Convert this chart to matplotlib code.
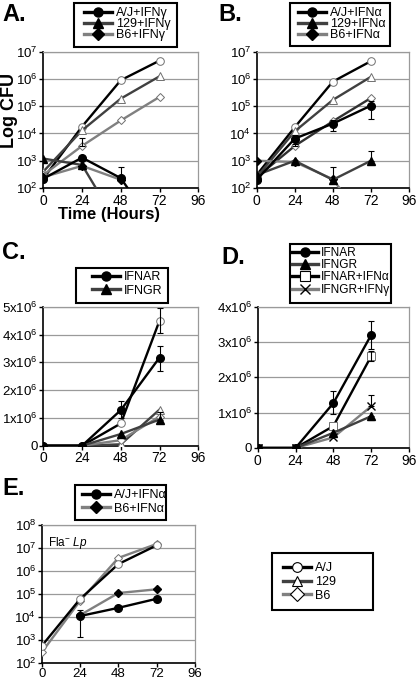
import numpy as np
import matplotlib
matplotlib.use("Agg")
import matplotlib.pyplot as plt
from matplotlib.lines import Line2D
from matplotlib.patches import Rectangle
from matplotlib.ticker import NullLocator

plt.rcParams['font.family'] = ['Liberation Sans', 'DejaVu Sans']
plt.rcParams['mathtext.fontset'] = 'custom'
plt.rcParams['mathtext.rm'] = 'Liberation Sans'
plt.rcParams['mathtext.it'] = 'Liberation Sans:italic'
plt.rcParams['mathtext.bf'] = 'Liberation Sans:bold'

nan = np.nan
hours = [0, 24, 48, 72]
x_ticks = [0, 24, 48, 72, 96]

# panel A: IFN-gamma treated macrophages (CFU, log)
a_aj = [220, 1.8e4, 9.0e5, 4.7e6]
a_129 = [400, 1.3e4, 1.9e5, 1.25e6]
a_b6 = [300, 3.5e3, 3.0e4, 2.2e5]
a_b6_hi = [nan, 7.0e3, nan, nan]
a_aj_g = [220, 1.3e3, 230, 2]
a_aj_g_hi = [nan, nan, 6.0e2, nan]
a_129_g = [1.2e3, 7.0e2, 3, nan]
a_b6_g = [250, 6.5e2, 200, nan]

# panel B: IFN-alpha treated
b_aj = [300, 1.7e4, 8.0e5, 4.5e6]
b_129 = [250, 1.2e4, 1.7e5, 1.2e6]
b_b6 = [250, 3.5e3, 2.8e4, 2.0e5]
b_b6_hi = [nan, 6.0e3, nan, nan]
b_aj_a = [200, 6.5e3, 2.3e4, 1.05e5]
b_aj_a_lo = [nan, 4.0e3, 1.2e4, 3.5e4]
b_aj_a_hi = [nan, 9.0e3, 3.0e4, 1.5e5]
b_129_a = [300, 1.0e3, 200, 1.0e3]
b_129_a_hi = [nan, nan, 6.0e2, 2.2e3]
b_b6_a = [1.0e3, 9.0e2, 210, 3]

# panel C: receptor knockouts (CFU, linear)
c_ifnar = [0, 0, 1.28e6, 3.17e6]
c_ifnar_lo = [nan, nan, 1.0e6, 2.7e6]
c_ifnar_hi = [nan, nan, 1.6e6, 3.6e6]
c_ifngr = [0, 0, 4.2e5, 9.4e5]
c_ifngr_hi = [nan, nan, nan, 1.2e6]
c_aj = [0, 0, 8.0e5, 4.5e6]
c_aj_lo = [nan, nan, nan, 4.05e6]
c_aj_hi = [nan, nan, nan, 4.95e6]
c_129 = [0, 0, 5.0e4, 1.3e6]
c_b6 = [0, 0, 2.0e5, 1.05e6]

# panel D: knockouts plus interferon
d_ifnar = [0, 0, 1.27e6, 3.2e6]
d_ifnar_lo = [nan, nan, 0.95e6, 2.8e6]
d_ifnar_hi = [nan, nan, 1.6e6, 3.6e6]
d_ifngr = [0, 0, 4.3e5, 9.0e5]
d_ifngr_lo = [nan, nan, nan, 0.8e6]
d_ifnar_a = [0, 0, 6.2e5, 2.6e6]
d_ifnar_a_lo = [nan, nan, nan, 2.45e6]
d_ifnar_a_hi = [nan, nan, nan, 2.75e6]
d_ifngr_g = [0, 0, 3.0e5, 1.18e6]
d_ifngr_g_hi = [nan, nan, nan, 1.5e6]

# panel E: flagellin-deficient Lp
e_aj = [550, 6.0e4, 2.0e6, 1.3e7]
e_b6 = [290, 5.0e4, 3.7e6, 1.5e7]
e_aj_a = [nan, 1.1e4, 2.5e4, 6.2e4]
e_aj_a_lo = [nan, 1.4e3, nan, nan]
e_aj_a_hi = [nan, 2.1e4, nan, nan]
e_b6_a = [nan, 1.2e4, 1.1e5, 1.6e5]

log_ticks = [1e2, 1e3, 1e4, 1e5, 1e6, 1e7, 1e8]
c_ticks = [0, 1e6, 2e6, 3e6, 4e6, 5e6]
c_labels = ['0', '1x10$^{6}$', '2x10$^{6}$', '3x10$^{6}$', '4x10$^{6}$', '5x10$^{6}$']

BLACK = '#000000'
DARK = '#404040'
GREY = '#808080'
OPEN_EDGE = '#707070'

W, H = 416, 679
fig = plt.figure(figsize=(W / 100, H / 100), dpi=100)


def rect(left, right, top, bottom):
    return [left / W, 1 - bottom / H, (right - left) / W, (bottom - top) / H]


def series(ax, y, color, marker, filled=True, lo=None, hi=None, ms=5.5):
    y = np.asarray(y, dtype=float)
    if filled:
        ax.plot(hours, y, color=color, lw=1.7, marker=marker, ms=ms,
                mfc=BLACK, mec=BLACK, zorder=4)
    else:
        ax.plot(hours, y, color=color, lw=1.7, marker=marker, ms=ms,
                mfc='white', mec=OPEN_EDGE, mew=0.7, zorder=3)
    if lo is not None or hi is not None:
        lo = np.asarray(lo if lo is not None else [nan] * 4, dtype=float)
        hi = np.asarray(hi if hi is not None else [nan] * 4, dtype=float)
        m = ~(np.isnan(lo) & np.isnan(hi))
        low = np.where(np.isnan(lo), y, lo)
        high = np.where(np.isnan(hi), y, hi)
        ax.errorbar(np.array(hours)[m], y[m],
                    yerr=[(y - low)[m], (high - y)[m]],
                    fmt='none', ecolor=BLACK, elinewidth=0.8, capsize=2,
                    capthick=0.8, zorder=5)


def style(ax, log=True, xpad=1, xsize=10):
    ax.set_xlim(0, 96)
    ax.set_xticks(x_ticks)
    ax.set_xticklabels([str(t) for t in x_ticks])
    if log:
        ax.set_yscale('log')
        ax.yaxis.set_minor_locator(NullLocator())
    ax.yaxis.grid(True, color='#9a9a9a', lw=0.9)
    ax.set_axisbelow(True)
    for s in ('top', 'right'):
        ax.spines[s].set_color('#9a9a9a')
        ax.spines[s].set_linewidth(0.9)
    for s in ('left', 'bottom'):
        ax.spines[s].set_color(BLACK)
        ax.spines[s].set_linewidth(1.2)
    ax.tick_params(direction='out', length=3, width=1, pad=1)
    ax.tick_params(axis='y', labelsize=9.5)
    ax.tick_params(axis='x', labelsize=xsize, pad=xpad)


def log_labels(ax, lo, hi):
    ticks = [t for t in log_ticks if lo <= t <= hi]
    ax.set_ylim(lo, hi)
    ax.set_yticks(ticks)
    ax.set_yticklabels([r'$\mathregular{10^{%d}}$' % round(np.log10(t)) for t in ticks])


def legend(handles, labels, box, hx, ty, spacing=-0.08, size=9, textpad=0.35):
    # box: (x0, y0, x1, y1) frame in pixels; hx: handle left; ty: top of first row
    x0, y0, x1, y1 = box
    fig.patches.append(Rectangle((x0 / W, 1 - y1 / H), (x1 - x0) / W, (y1 - y0) / H,
                                 transform=fig.transFigure, fill=True, facecolor='white',
                                 edgecolor=BLACK, lw=1.5, zorder=5))
    leg = fig.legend(handles, labels, loc='upper left',
                     bbox_to_anchor=(hx / W, 1 - ty / H), bbox_transform=fig.transFigure,
                     frameon=False, fontsize=size, handlelength=2.2, handletextpad=textpad,
                     labelspacing=spacing, borderpad=0, borderaxespad=0)
    leg.set_zorder(6)
    return leg


def h(color, marker, filled=True):
    if filled:
        return Line2D([], [], color=color, lw=2.4, marker=marker, ms=6.5, mfc=BLACK, mec=BLACK)
    return Line2D([], [], color=color, lw=2.4, marker=marker, ms=7, mfc='white', mec=BLACK, mew=0.8)


# ---- A ----
axA = fig.add_axes(rect(43.3, 198.3, 51.7, 188))
style(axA)
series(axA, a_aj, BLACK, 'o', False)
series(axA, a_129, DARK, '^', False)
series(axA, a_b6, GREY, 'D', False, hi=a_b6_hi, ms=4.5)
series(axA, a_b6_g, GREY, 'D', ms=4.5)
series(axA, a_129_g, DARK, '^')
series(axA, a_aj_g, BLACK, 'o', hi=a_aj_g_hi)
log_labels(axA, 1e2, 1e7)

# ---- B ----
axB = fig.add_axes(rect(256.7, 409, 51.7, 188))
style(axB)
series(axB, b_aj, BLACK, 'o', False)
series(axB, b_129, DARK, '^', False)
series(axB, b_b6, '#303030', 'D', False, hi=b_b6_hi, ms=4.5)
series(axB, b_b6_a, GREY, 'D', ms=4.5)
series(axB, b_129_a, DARK, '^', hi=b_129_a_hi)
series(axB, b_aj_a, BLACK, 'o', lo=b_aj_a_lo, hi=b_aj_a_hi)
log_labels(axB, 1e2, 1e7)

# ---- C ----
axC = fig.add_axes(rect(43.3, 198.3, 306.7, 445.7))
style(axC, log=False)
series(axC, c_aj, BLACK, 'o', False, lo=c_aj_lo, hi=c_aj_hi)
series(axC, c_129, DARK, '^', False)
series(axC, c_b6, GREY, 'D', False, ms=4.5)
series(axC, c_ifngr, DARK, '^', hi=c_ifngr_hi)
series(axC, c_ifnar, BLACK, 'o', lo=c_ifnar_lo, hi=c_ifnar_hi)
axC.set_ylim(0, 5e6)
axC.set_yticks(c_ticks)
axC.set_yticklabels(c_labels)

# ---- D ----
axD = fig.add_axes(rect(257.7, 409, 306.7, 448))
style(axD, log=False)
series(axD, d_ifngr_g, GREY, 'x', hi=d_ifngr_g_hi, ms=6)
series(axD, d_ifnar_a, BLACK, 's', False, lo=d_ifnar_a_lo, hi=d_ifnar_a_hi)
series(axD, d_ifngr, DARK, '^', lo=d_ifngr_lo)
series(axD, d_ifnar, BLACK, 'o', lo=d_ifnar_lo, hi=d_ifnar_hi)
axD.set_ylim(0, 4e6)
axD.set_yticks(c_ticks[:5])
axD.set_yticklabels(c_labels[:5])

# ---- E ----
axE = fig.add_axes(rect(41.7, 195, 525, 663))
style(axE, xpad=0.5, xsize=9.5)
series(axE, e_b6, GREY, 'D', False, ms=4.5)
series(axE, e_aj, BLACK, 'o', False)
series(axE, e_b6_a, GREY, 'D', ms=4.5)
series(axE, e_aj_a, BLACK, 'o', lo=e_aj_a_lo, hi=e_aj_a_hi)
log_labels(axE, 1e2, 1e8)
axE.text(0.04, 0.93, r'Fla$^{-}$ $\it{Lp}$', transform=axE.transAxes,
         fontsize=8.5, va='top', ha='left')

# ---- legends ----
legend([h(BLACK, 'o'), h(DARK, '^'), h(GREY, 'D')],
       ['A/J+IFN\u03b3', '129+IFN\u03b3', 'B6+IFN\u03b3'], (74, 3, 177, 47), 84, 7)
legend([h(BLACK, 'o'), h(DARK, '^'), h(GREY, 'D')],
       ['A/J+IFN\u03b1', '129+IFN\u03b1', 'B6+IFN\u03b1'], (290, 3, 390, 46), 298, 7)
legend([h(BLACK, 'o'), h(DARK, '^')], ['IFNAR', 'IFNGR'], (76, 268, 168, 303), 92, 271, 0.12)
legend([h(BLACK, 'o'), h(DARK, '^'), h(BLACK, 's', False), h(GREY, 'x')],
       ['IFNAR', 'IFNGR', 'IFNAR+IFN\u03b1', 'IFNGR+IFN\u03b3'], (290, 244, 391, 303), 292, 247,
       0.02, 8.6, 0.2)
legend([h(BLACK, 'o'), h(GREY, 'D')], ['A/J+IFN\u03b1', 'B6+IFN\u03b1'], (75, 485, 166, 520), 82, 489, 0.12)
legend([h(BLACK, 'o', False), h(DARK, '^', False), h(GREY, 'D', False)],
       ['A/J', '129', 'B6'], (272, 553, 373, 610), 283, 562, 0.15)

# ---- panel letters and axis titles ----
for letter, x, y in [('A.', 2, 3), ('B.', 218, 3), ('C.', 2, 241), ('D.', 221, 246), ('E.', 2, 477)]:
    fig.text(x / W, 1 - y / H, letter, fontsize=17, fontweight='bold', va='top', ha='left')
fig.text(9 / W, 1 - 110 / H, 'Log CFU', rotation=90, fontsize=13, fontweight='bold',
         va='center', ha='center')
fig.text(109 / W, 1 - 215 / H, 'Time (Hours)', fontsize=12, fontweight='bold',
         va='center', ha='center')

fig.savefig('out.png', dpi=100)
